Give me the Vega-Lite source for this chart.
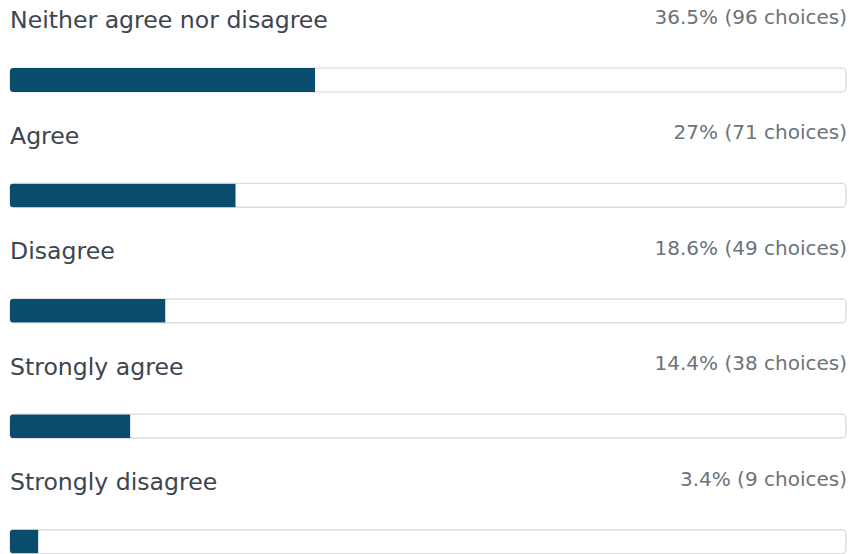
{
  "$schema": "https://vega.github.io/schema/vega-lite/v6.json",
  "width": 836,
  "height": 554,
  "autosize": {"type": "none"},
  "padding": {"left": 10, "right": 3, "top": 0, "bottom": 0},
  "background": "white",
  "config": {"view": {"stroke": null}},
  "data": {
    "values": [
      {"order": 0, "label": "Neither agree nor disagree", "pct": 36.5, "count": 96, "text": "36.5% (96 choices)", "full": 100},
      {"order": 1, "label": "Agree", "pct": 27, "count": 71, "text": "27% (71 choices)", "full": 100},
      {"order": 2, "label": "Disagree", "pct": 18.6, "count": 49, "text": "18.6% (49 choices)", "full": 100},
      {"order": 3, "label": "Strongly agree", "pct": 14.4, "count": 38, "text": "14.4% (38 choices)", "full": 100},
      {"order": 4, "label": "Strongly disagree", "pct": 3.4, "count": 9, "text": "3.4% (9 choices)", "full": 100}
    ]
  },
  "encoding": {
    "y": {"field": "order", "type": "quantitative", "scale": {"domain": [-0.6932, 4.1075], "reverse": true, "nice": false, "zero": false, "padding": 0}, "axis": null}
  },
  "layer": [
    {
      "mark": {"type": "bar", "orient": "horizontal", "height": 24, "fill": "white", "stroke": "#dcdcdc", "strokeWidth": 1.2, "cornerRadius": 4},
      "encoding": {
        "x": {"field": "full", "type": "quantitative", "scale": {"domain": [0, 100], "nice": false, "padding": 0}, "axis": null}
      }
    },
    {
      "mark": {"type": "bar", "orient": "horizontal", "height": 24, "fill": "#0a4c6b", "cornerRadiusTopLeft": 3, "cornerRadiusBottomLeft": 3},
      "encoding": {
        "x": {"field": "pct", "type": "quantitative"}
      }
    },
    {
      "mark": {"type": "text", "align": "left", "baseline": "alphabetic", "dx": 0, "dy": -51.5, "font": "DejaVu Sans", "fontSize": 23.6, "fill": "#3d4550"},
      "encoding": {
        "x": {"datum": 0, "type": "quantitative"},
        "text": {"field": "label"}
      }
    },
    {
      "mark": {"type": "text", "align": "right", "baseline": "alphabetic", "dx": 1, "dy": -56, "font": "DejaVu Sans", "fontSize": 20, "fill": "#6b737b"},
      "encoding": {
        "x": {"datum": 100, "type": "quantitative"},
        "text": {"field": "text"}
      }
    }
  ]
}
